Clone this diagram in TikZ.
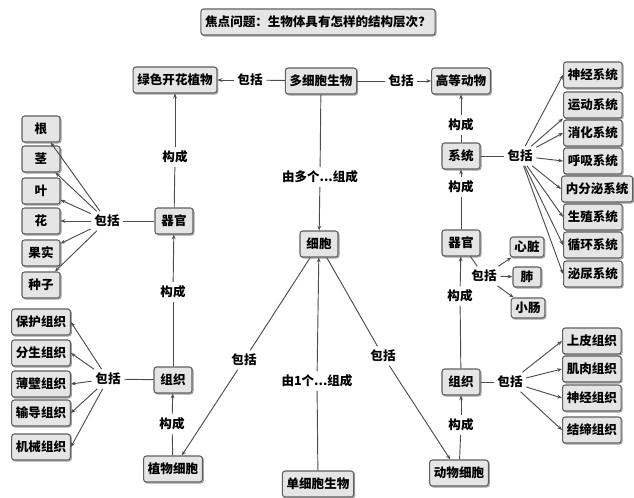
\documentclass[tikz,border=0pt]{standalone}
\usepackage{fontspec}
\setmainfont{Noto Sans CJK SC}
\usetikzlibrary{arrows.meta, shadows}

\begin{document}
\begin{tikzpicture}[x=0.75pt, y=-0.75pt, box/.style={draw=gray!75!black, fill=gray!20, rounded corners=2pt, line width=0.8pt, minimum height=19.5pt, minimum width=28.5pt, inner xsep=3.2pt, inner ysep=2pt, drop shadow={shadow xshift=0.8pt, shadow yshift=-0.8pt, fill=gray!55}}, smallbox/.style={box, minimum width=21pt, minimum height=15pt}, lbl/.style={inner sep=2.5pt}, every node/.style={font=\fontsize{9.4}{11}\selectfont\bfseries}, every path/.style={draw=gray!60!black, line width=0.7pt}, >={Stealth[length=3.6pt, width=2.8pt]}]
	\useasboundingbox[draw=none] (0,0) rectangle (634,498);

	% Nodes
	\node[box] (title) at (318,22) {焦点问题：生物体具有怎样的结构层次？};
	\node[box] (plant) at (175,80) {绿色开花植物};
	\node[box] (multi) at (321,81) {多细胞生物};
	\node[box] (animal) at (461,81) {高等动物};
	\node[box] (cell) at (319,244) {细胞};
	\node[box] (single) at (318,484) {单细胞生物};
	\node[box] (pcell) at (173,469) {植物细胞};
	\node[box] (acell) at (459,473) {动物细胞};
	\node[box] (ptis) at (173,380) {组织};
	\node[box] (porg) at (174,221) {器官};
	\node[box] (atis) at (461,382) {组织};
	\node[box] (aorg) at (461,243) {器官};
	\node[box] (sys) at (461,156) {系统};

	% Plant organs and tissues
	\node[box] (r1) at (41,129) {根};
	\node[box] (r2) at (41,159) {茎};
	\node[box] (r3) at (41,191) {叶};
	\node[box] (r4) at (41,221) {花};
	\node[box] (r5) at (41,253) {果实};
	\node[box] (r6) at (41,285) {种子};
	\node[box] (t1) at (41,322) {保护组织};
	\node[box] (t2) at (41,353) {分生组织};
	\node[box] (t3) at (41,384) {薄壁组织};
	\node[box] (t4) at (41,413) {输导组织};
	\node[box] (t5) at (41,447) {机械组织};

	% Animal systems, organs and tissues
	\node[box, anchor=west] (s1) at (563,75) {神经系统};
	\node[box, anchor=west] (s2) at (563,105) {运动系统};
	\node[box, anchor=west] (s3) at (563,133) {消化系统};
	\node[box, anchor=west] (s4) at (563,161) {呼吸系统};
	\node[box, anchor=west] (s5) at (561,189) {内分泌系统};
	\node[box, anchor=west] (s6) at (563,217) {生殖系统};
	\node[box, anchor=west] (s7) at (563,245) {循环系统};
	\node[box, anchor=west] (s8) at (563,274) {泌尿系统};
	\node[smallbox] (o1) at (527,247) {心脏};
	\node[smallbox] (o2) at (527,277) {肺};
	\node[smallbox] (o3) at (528,308) {小肠};
	\node[box, anchor=west] (a1) at (562,341) {上皮组织};
	\node[box, anchor=west] (a2) at (562,369) {肌肉组织};
	\node[box, anchor=west] (a3) at (562,398) {神经组织};
	\node[box, anchor=west] (a4) at (562,430) {结缔组织};

	% Labels
	\node[lbl] (lA) at (250,80) {包括};
	\node[lbl] (lB) at (401,81) {包括};
	\node[lbl] (lC) at (320,177) {由多个...组成};
	\node[lbl] (lD) at (317,381) {由1个...组成};
	\node[lbl] (lE) at (244,360) {包括};
	\node[lbl] (lF) at (383,356) {包括};
	\node[lbl] (lG) at (172,424) {构成};
	\node[lbl] (lH) at (173,292) {构成};
	\node[lbl] (lI) at (175,157) {构成};
	\node[lbl] (lJ) at (107,221) {包括};
	\node[lbl] (lK) at (108,379) {包括};
	\node[lbl] (lL) at (461,425) {构成};
	\node[lbl] (lM) at (460,296) {构成};
	\node[lbl] (lN) at (461,187) {构成};
	\node[lbl] (lO) at (461,125) {构成};
	\node[lbl] (lP) at (520,156) {包括};
	\node[lbl] (lQ) at (484,276) {包括};
	\node[lbl] (lR) at (510,382) {包括};

	% Main chain
	\draw (multi) -- (lA);
	\draw[->] (lA) -- (plant);
	\draw (multi) -- (lB);
	\draw[->] (lB) -- (animal);
	\draw (multi) -- (lC);
	\draw[->] (lC) -- (cell);
	\draw (single) -- (lD);
	\draw[->] (lD) -- (cell);
	\draw (cell) -- (lE);
	\draw[->] (lE) -- (pcell);
	\draw (cell) -- (lF);
	\draw[->] (lF) -- (acell);

	% Plant side
	\draw (pcell) -- (lG);
	\draw[->] (lG) -- (ptis);
	\draw (ptis) -- (lH);
	\draw[->] (lH) -- (porg);
	\draw (porg) -- (lI);
	\draw[->] (lI) -- (plant);
	\draw (porg) -- (lJ);
	\draw[->] (lJ) -- (r1);
	\draw[->] (lJ) -- (r2);
	\draw[->] (lJ) -- (r3);
	\draw[->] (lJ) -- (r4);
	\draw[->] (lJ) -- (r5);
	\draw[->] (lJ) -- (r6);
	\draw (ptis) -- (lK);
	\draw[->] (lK) -- (t1.east);
	\draw[->] (lK) -- (t2.east);
	\draw[->] (lK) -- (t3.east);
	\draw[->] (lK) -- (t4.east);
	\draw[->] (lK) -- (t5.east);

	% Animal side
	\draw (acell) -- (lL);
	\draw[->] (lL) -- (atis);
	\draw (atis) -- (lM);
	\draw[->] (lM) -- (aorg);
	\draw (aorg) -- (lN);
	\draw[->] (lN) -- (sys);
	\draw (sys) -- (lO);
	\draw[->] (lO) -- (animal);
	\draw (sys) -- (lP);
	\draw[->] (lP) -- (s1.west);
	\draw[->] (lP) -- (s2.south west);
	\draw[->] (lP) -- (s3.west);
	\draw[->] (lP) -- (s4.west);
	\draw[->] (lP) -- (s5.west);
	\draw[->] (lP) -- (s6.west);
	\draw[->] (lP) -- (s7.west);
	\draw[->] (lP) -- (s8.west);
	\draw (aorg) -- (lQ);
	\draw[->] (lQ) -- (o1);
	\draw[->] (lQ) -- (o2);
	\draw[->] (lQ) -- (o3);
	\draw (atis) -- (lR);
	\draw[->] (lR) -- (a1.west);
	\draw[->] (lR) -- (a2.west);
	\draw[->] (lR) -- (a3.west);
	\draw[->] (lR) -- (a4.west);
\end{tikzpicture}
\end{document}
